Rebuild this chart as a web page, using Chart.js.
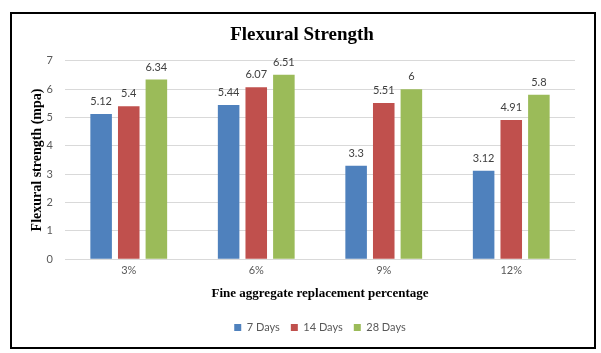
<!DOCTYPE html>
<html>
<head>
<meta charset="utf-8">
<script src="https://cdn.jsdelivr.net/npm/chart.js@4"></script>
<style>
    body { margin: 0; background: #fff; }
    #frame {
        position: absolute;
        left: 10px;
        top: 12px;
        width: 582px;
        height: 333px;
        border: 2px solid #000;
    }
</style>
</head>
<body>
<div id="frame"><canvas id="chart"></canvas></div>
<script>
const categories = ["3%", "6%", "9%", "12%"];
const days7 = [5.12, 5.44, 3.3, 3.12];
const days14 = [5.4, 6.07, 5.51, 4.91];
const days28 = [6.34, 6.51, 6, 5.8];
const yTicks = [0, 1, 2, 3, 4, 5, 6, 7];

const INK_MUTED = "#595959";
const GRIDLINE = "#d9d9d9";
const SANS = "Lato, 'Liberation Sans', sans-serif";
const SERIF = "'Liberation Serif', 'DejaVu Serif', serif";

// value printed above each bar
const valueLabels = {
    id: "valueLabels",
    afterDatasetsDraw(chart) {
        const ctx = chart.ctx;
        ctx.save();
        ctx.font = "11px " + SANS;
        ctx.fillStyle = "#404040";
        ctx.textAlign = "center";
        ctx.textBaseline = "bottom";
        chart.data.datasets.forEach((dataset, i) => {
            chart.getDatasetMeta(i).data.forEach((bar, j) => {
                ctx.fillText(String(dataset.data[j]), bar.x, bar.y - 7);
            });
        });
        ctx.restore();
    },
};

new Chart(document.getElementById("chart"), {
    type: "bar",
    data: {
        labels: categories,
        datasets: [
            { label: "7 Days", data: days7, backgroundColor: "#4f81bd" },
            { label: "14 Days", data: days14, backgroundColor: "#c0504d" },
            { label: "28 Days", data: days28, backgroundColor: "#9bbb59" },
        ],
    },
    options: {
        responsive: true,
        maintainAspectRatio: false,
        animation: false,
        datasets: { bar: { categoryPercentage: 0.65, barPercentage: 0.78 } },
        layout: { padding: { top: 6, right: 19, left: 17, bottom: 4 } },
        plugins: {
            title: {
                display: true,
                text: "Flexural Strength",
                color: "#000",
                font: { family: SERIF, size: 19, weight: "bold" },
                padding: { top: 4, bottom: 14 },
            },
            legend: {
                position: "bottom",
                fullSize: false,
                labels: {
                    boxWidth: 7,
                    boxHeight: 7,
                    color: INK_MUTED,
                    font: { family: SANS, size: 11 },
                    padding: 11,
                },
            },
            tooltip: { enabled: false },
        },
        scales: {
            x: {
                grid: { display: false, drawTicks: false },
                border: { color: GRIDLINE },
                ticks: { color: INK_MUTED, font: { family: SANS, size: 11 }, padding: 5 },
                title: {
                    display: true,
                    text: "Fine aggregate replacement percentage",
                    color: "#000",
                    font: { family: SERIF, size: 13, weight: "bold" },
                    padding: { top: 3, bottom: 10 },
                },
            },
            y: {
                min: 0,
                max: 7,
                afterBuildTicks: (axis) => { axis.ticks = yTicks.map((v) => ({ value: v })); },
                afterFit: (axis) => { axis.width = 36; },
                grid: { color: GRIDLINE, drawTicks: false },
                border: { display: false },
                ticks: { color: INK_MUTED, font: { family: SANS, size: 11 }, padding: 12 },
                title: {
                    display: true,
                    text: "Flexural strength (mpa)",
                    color: "#000",
                    font: { family: SERIF, size: 14, weight: "bold" },
                    padding: 0,
                },
            },
        },
    },
    plugins: [valueLabels],
});
</script>
</body>
</html>
